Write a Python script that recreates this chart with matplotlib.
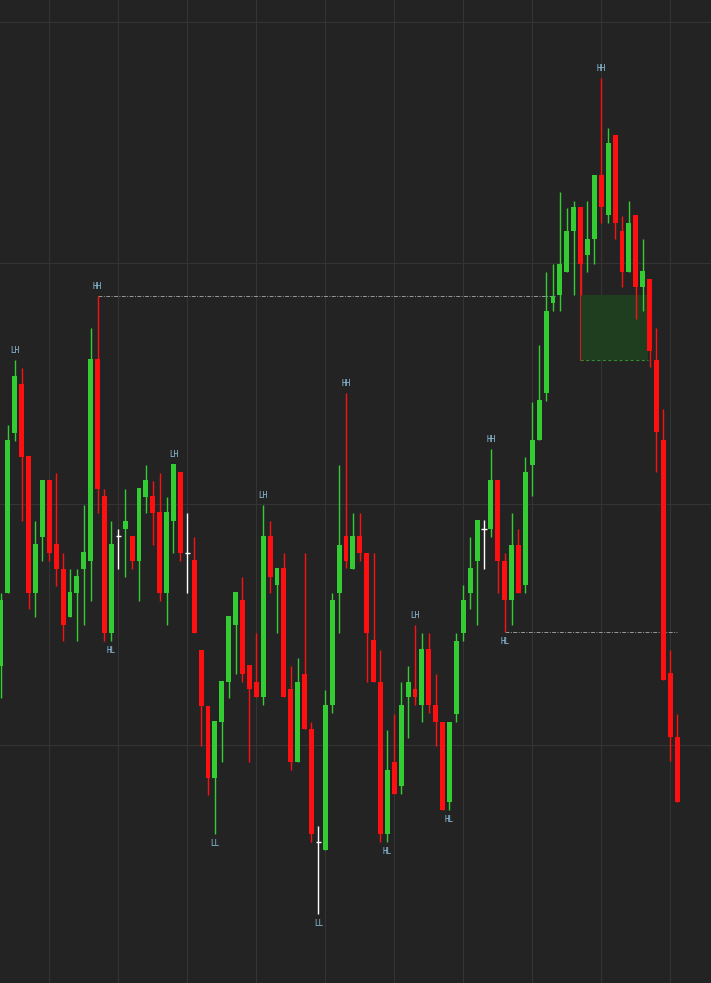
import matplotlib
matplotlib.use("Agg")
import matplotlib.pyplot as plt
from matplotlib.patches import Rectangle

opens  = [334,407,567,616,544,407,463,520,456,431,383,407,431,439,641,504,367,464,471,464,439,503,504,488,407,479,528,447,440,350,
          294,222,278,318,375,400,335,318,303,464,415,432,311,238,326,271,158,150,295,407,464,431,464,447,360,318,166,238,214,303,
          311,295,351,295,278,198,286,367,407,439,471,471,520,439,400,455,415,535,560,607,697,705,728,769,793,745,761,825,785,865,
          769,728,785,713,721,640,560,327,263]
highs  = [407,575,640,632,544,479,520,520,527,447,431,431,495,672,704,511,479,471,511,464,512,535,519,527,503,536,528,487,463,350,
          294,279,319,384,408,423,335,367,495,479,432,447,334,342,447,278,174,310,407,535,607,487,487,447,447,350,270,286,318,334,
          375,367,367,326,278,278,367,415,463,480,480,551,520,447,487,471,543,598,655,728,736,808,792,799,793,799,825,922,872,865,
          784,799,785,761,721,672,591,350,286]
lows   = [302,407,559,479,391,383,439,439,414,359,383,359,375,399,487,359,359,431,423,431,399,487,455,399,375,447,439,407,367,254,
          205,166,238,302,326,318,238,303,295,407,367,303,230,238,271,158,86,150,287,367,432,431,439,318,318,158,158,206,206,262,
          295,278,287,254,190,190,278,359,391,375,431,463,407,368,375,407,407,504,560,599,689,689,728,705,705,728,736,777,777,761,
          713,728,681,689,633,528,320,239,198]
closes = [400,560,624,543,407,456,520,447,431,375,408,424,448,641,511,367,456,464,479,439,512,520,487,407,488,536,447,447,367,294,
          222,279,319,384,408,326,311,303,464,423,432,303,238,318,271,166,158,295,400,455,439,464,447,367,318,166,230,206,295,318,
          303,351,295,278,190,278,359,400,432,480,471,520,439,400,455,407,528,560,600,689,704,736,769,793,736,761,825,793,857,777,
          728,777,713,729,649,568,320,263,198]
doji_idx = [17, 27, 46, 70]

label_idx  = [2, 14, 16, 25, 31, 38, 46, 50, 56, 60, 65, 71, 73, 87]
label_text = ["LH","HH","HL","LH","LL","LH","LL","HH","HL","LH","HL","HH","HL","HH"]
label_up   = [True,True,False,True,False,True,False,True,False,True,False,True,False,True]

hh_line = (14, 80.3, 704)
hl_line = (73, 98, 368)
ob_box = (83.9, 93.8, 640, 705)

BG = "#232323"
GREEN = "#33cc33"
RED = "#ff1010"

fig = plt.figure(figsize=(7.11, 9.83), dpi=100, facecolor=BG)
ax = fig.add_axes([0, 0, 1, 1], facecolor=BG)
ax.set_xlim(-0.145, 102.9)
ax.set_ylim(17, 1000)
for gy in [978, 737, 496, 255]:
    ax.axhline(gy, color="#343434", lw=0.8, zorder=0)
for gx in range(7, 103, 10):
    ax.axvline(gx, color="#343434", lw=0.8, zorder=0)

# order block box
x0, x1, y0, y1 = ob_box
ax.add_patch(Rectangle((x0, y0), x1 - x0, y1 - y0, facecolor="#1f3d1f", edgecolor="none", zorder=1))
ax.plot([x0, x1], [y0, y0], color="#2e8b2e", lw=0.8, ls=(0, (3, 2)), zorder=1)
ax.plot([x0, x0], [y0, 736], color="#cc2020", lw=0.8, zorder=1)

ax.plot([hh_line[0], hh_line[1]], [hh_line[2]] * 2, color="#9a9a9a", lw=0.7, ls=(0, (4, 1.5, 1, 1.5)), zorder=1)
ax.plot([hl_line[0], hl_line[1]], [hl_line[2]] * 2, color="#9a9a9a", lw=0.7, ls=(0, (4, 1.5, 1, 1.5)), zorder=1)

w = 0.72
for i, (o, h, l, c) in enumerate(zip(opens, highs, lows, closes)):
    if i in doji_idx:
        ax.vlines(i, l, h, color="white", lw=1, zorder=2)
        ax.hlines(o, i - 0.4, i + 0.4, color="white", lw=1, zorder=2)
        continue
    col = GREEN if c >= o else RED
    ax.vlines(i, l, h, color=col, lw=1, zorder=2)
    ax.add_patch(Rectangle((i - w / 2, min(o, c)), w, max(abs(c - o), 1.5), facecolor=col, edgecolor="none", zorder=3))

for i, t, up in zip(label_idx, label_text, label_up):
    y = highs[i] if up else lows[i]
    ax.annotate(t, (i, y), xytext=(0, 7 if up else -7), textcoords="offset points",
                ha="center", va="center", fontsize=5.5, color="#8fc3e0", family="DejaVu Sans Mono")

ax.axis("off")
fig.savefig("out.png", dpi=100, facecolor=BG)
